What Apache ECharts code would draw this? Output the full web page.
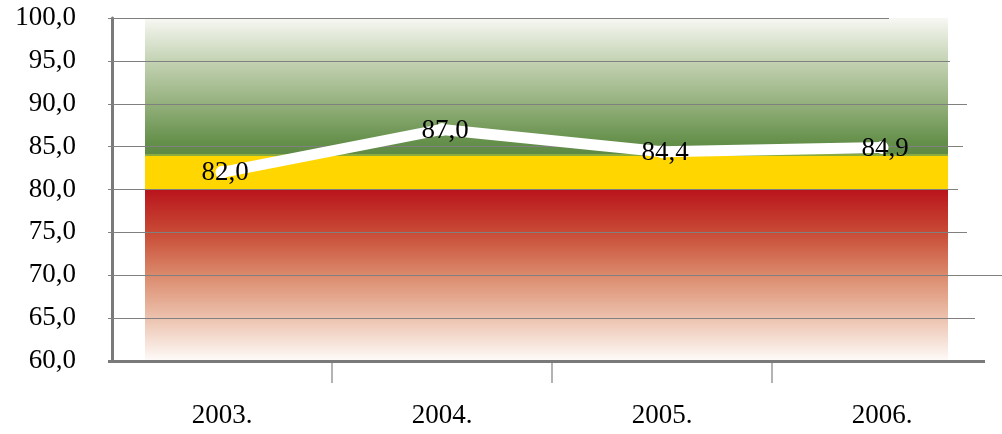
<!DOCTYPE html>
<html>
<head>
<meta charset="utf-8">
<script src="https://cdn.jsdelivr.net/npm/echarts@6/dist/echarts.min.js"></script>
<style>
  html, body { margin: 0; padding: 0; background: #ffffff; }
  #chart { width: 1002px; height: 434px; }
</style>
</head>
<body>
<div id="chart"></div>
<script>
// Yearly index values
const years = ['2003.', '2004.', '2005.', '2006.'];
const scores = [82.0, 87.0, 84.4, 84.9];

// Value axis range and tick step
const yMin = 60;
const yMax = 100;
const yStep = 5;

// Rating zones (value ranges)
const redZone = [60, 80];
const yellowZone = [80, 84];
const greenZone = [84, 100];

// Horizontal guide lines and where each one stops on the right (px)
const guideValues = [65, 70, 75, 80, 85, 90, 95, 100];
const guideEnds = { 65: 975, 70: 1002, 75: 967, 80: 958, 85: 963, 90: 967, 95: 950, 100: 889 };

const FONT = "'Liberation Serif', 'DejaVu Serif', serif";
const GRAY = '#808080';
const AXIS_X = 108;        // left edge where the value axis sits
const BASE_END = 985;      // right end of the baseline
const ZONE_LEFT = 145;
const ZONE_RIGHT = 948;

const fmt = v => Number(v).toFixed(1).replace('.', ',');

const grad = stops => new echarts.graphic.LinearGradient(0, 0, 0, 1,
  stops.map(([offset, color]) => ({ offset, color })));

const zoneAreas = [
  [
    { yAxis: greenZone[1], x: ZONE_LEFT,
      itemStyle: { color: grad([[0, '#f7f8f3'], [0.3, '#c6d4b6'], [0.6, '#98b381'], [0.9, '#65904b'], [1, '#5d8944']]) } },
    { yAxis: greenZone[0], x: ZONE_RIGHT }
  ],
  [
    { yAxis: yellowZone[1], x: ZONE_LEFT, itemStyle: { color: '#ffd600' } },
    { yAxis: yellowZone[0], x: ZONE_RIGHT }
  ],
  [
    { yAxis: redZone[1], x: ZONE_LEFT,
      itemStyle: { color: grad([[0, '#b9141c'], [0.25, '#c84a35'], [0.5, '#db8a6c'], [0.75, '#ecc2ae'], [1, '#fefbf9']]) } },
    { yAxis: redZone[0], x: ZONE_RIGHT }
  ]
];

const guideLines = guideValues.map(v => [
  { yAxis: v, x: AXIS_X },
  { yAxis: v, x: guideEnds[v] }
]);
// baseline of the chart
guideLines.push([
  { yAxis: yMin, x: AXIS_X, lineStyle: { width: 3, color: '#7a7a7a' } },
  { yAxis: yMin, x: BASE_END }
]);
// thin edge between green and yellow zones
guideLines.push([
  { yAxis: greenZone[0], x: ZONE_LEFT, lineStyle: { width: 2, color: '#8cab3e' } },
  { yAxis: greenZone[0], x: ZONE_RIGHT }
]);

const chart = echarts.init(document.getElementById('chart'), null, { renderer: 'canvas' });

chart.setOption({
  animation: false,
  backgroundColor: '#ffffff',
  grid: { left: 112, right: 10, top: 18, bottom: 73, containLabel: false },
  xAxis: [
    {
      type: 'category',
      data: years,
      position: 'bottom',
      boundaryGap: true,
      axisLine: { show: false },
      axisTick: { show: false },
      splitLine: { show: false },
      axisLabel: { color: '#000', fontFamily: FONT, fontSize: 27, margin: 41 }
    },
    {
      type: 'value',
      position: 'bottom',
      min: 0,
      max: years.length,
      interval: 1,
      axisLine: { show: false },
      axisLabel: { show: false },
      splitLine: { show: false },
      axisTick: {
        show: true,
        length: 22,
        customValues: years.slice(1).map((_, i) => i + 1),
        lineStyle: { color: '#9a9a9a', width: 1.5 }
      }
    }
  ],
  yAxis: {
    type: 'value',
    min: yMin,
    max: yMax,
    interval: yStep,
    offset: 4,
    axisLine: { show: true, lineStyle: { color: '#7a7a7a', width: 3 } },
    axisTick: { show: false },
    splitLine: { show: false },
    axisLabel: {
      color: '#000', fontFamily: FONT, fontSize: 27, margin: 32,
      formatter: v => fmt(v)
    }
  },
  series: [
    {
      type: 'line',
      data: scores,
      xAxisIndex: 0,
      z: 3,
      symbol: 'circle',
      symbolSize: 13,
      showSymbol: true,
      itemStyle: { color: '#ffffff' },
      lineStyle: { color: '#ffffff', width: 11, cap: 'round', join: 'round' },
      label: {
        show: true,
        position: 'inside',
        offset: [3, 1],
        color: '#000',
        fontFamily: FONT,
        fontSize: 27,
        formatter: p => fmt(p.value)
      },
      markArea: {
        silent: true,
        z: 1,
        data: zoneAreas
      },
      markLine: {
        silent: true,
        z: 1.5,
        symbol: ['none', 'none'],
        label: { show: false },
        emphasis: { disabled: true },
        lineStyle: { color: GRAY, width: 1.2, type: 'solid' },
        data: guideLines
      }
    }
  ]
});
</script>
</body>
</html>
